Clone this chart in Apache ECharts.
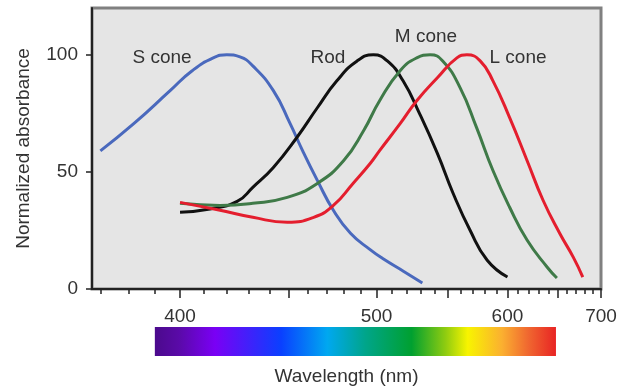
<!DOCTYPE html>
<html><head><meta charset="utf-8">
<script src="https://cdn.jsdelivr.net/npm/echarts@6/dist/echarts.min.js"></script>
<style>html,body{margin:0;padding:0;background:#fff}#c{width:618px;height:387px}</style>
</head><body><div id="c"></div>
<script>
// ---- data (wavelength in nm, normalized absorbance) ----
const sConeNm  = [370, 382, 396, 405, 414, 420, 426, 432, 442, 450.5, 457, 465, 474, 484, 496, 504, 518, 531];
const sConeVal = [59, 70.6, 84.7, 93.2, 98.7, 100, 99.1, 95.3, 84.7, 70.6, 59.1, 46.4, 33.6, 23.8, 16.8, 13, 7.5, 2.6];

const rodNm  = [400, 412.6, 424.7, 432, 442, 454, 465, 476, 488, 498, 507, 517.5, 529, 542, 554, 567.6, 582, 600];
const rodVal = [32.8, 34.2, 37.4, 43.4, 51.9, 64.7, 77.4, 88.9, 97.4, 100, 97.4, 88.9, 74.9, 57.9, 40.9, 25.1, 12.3, 5.1];

const mConeNm  = [400, 417, 432, 449, 465, 480, 492, 502, 515.5, 527, 536.6, 546, 559.5, 573, 587, 602, 618.5, 638.6, 649];
const mConeVal = [36.6, 35.7, 36.6, 39.1, 45.1, 54.9, 67.7, 80.4, 93.2, 98.7, 100, 97.4, 86, 68.9, 50.6, 34.9, 20.9, 9.4, 4.7];

const lConeNm  = [400, 417, 432, 449, 463, 474, 485.5, 496, 502, 515.5, 527, 542, 557, 565, 576, 587, 602, 618.5, 634.5, 652, 667, 678];
const lConeVal = [37, 33.6, 30.6, 28.5, 30.6, 35.7, 45.1, 53.6, 59.1, 70.6, 80.4, 90.2, 98.7, 100, 97.4, 88.9, 73.2, 54.9, 37.9, 23.8, 13.6, 5.1];

const seriesNames = ['S cone', 'Rod', 'M cone', 'L cone'];
const xLabelNm = [400, 500, 600, 700];
const xMajorTickNm = [400, 450, 500, 550, 600, 650, 700];
const xMinorTickNm = [370, 380, 390, 400, 410, 420, 430, 440, 450, 460, 470, 480, 490, 500, 510, 520, 530, 540, 550, 560, 570, 580, 590, 600, 610, 620, 630, 640, 650, 660, 670, 680, 690, 700];
const yTicks = [0, 50, 100];
const spectrumNm = [390, 648];

// ---- build ----
const FONT = "'Liberation Sans', Arial, sans-serif";
const toX = nm => 1e7 / nm;          // reciprocal (wavenumber) scale
const X_MIN = toX(700), X_MAX = toX(367.1);
// sort ascending in x for smoothing
const pairs = (nm, v) => nm.map((w, i) => [toX(w), v[i]]).reverse();

const colors = ['#4a69bd', '#111111', '#3f7a48', '#e41e2e'];
const lineSeries = [[sConeNm, sConeVal], [rodNm, rodVal], [mConeNm, mConeVal], [lConeNm, lConeVal]].map((d, i) => ({
  type: 'line', name: seriesNames[i], data: pairs(d[0], d[1]),
  showSymbol: false, smooth: 0.5,
  lineStyle: { color: colors[i], width: 3 }, itemStyle: { color: colors[i] }, z: 3 + i
}));

const spectrumStops = [
  { offset: 0, color: '#4b0a8c' }, { offset: 0.06, color: '#5a0aa8' }, { offset: 0.15, color: '#7a00f5' },
  { offset: 0.315, color: '#0a40ff' }, { offset: 0.43, color: '#00a8f0' }, { offset: 0.525, color: '#00a58a' },
  { offset: 0.64, color: '#00a030' }, { offset: 0.725, color: '#90cc10' }, { offset: 0.78, color: '#f8f400' },
  { offset: 0.865, color: '#fbb030' }, { offset: 0.93, color: '#f06830' }, { offset: 1, color: '#e82424' }
];

const chart = echarts.init(document.getElementById('c'), null, { renderer: 'canvas' });
chart.setOption({
  animation: false,
  backgroundColor: '#ffffff',
  textStyle: { fontFamily: FONT },
  grid: { left: 92, right: 17, top: 8, bottom: 98, show: true, backgroundColor: '#e5e5e5', borderColor: '#808080', borderWidth: 3, containLabel: false, outerBoundsMode: 'none' },
  xAxis: [{
    type: 'value', min: X_MIN, max: X_MAX, inverse: true, position: 'bottom',
    axisLine: { show: true, lineStyle: { color: '#222', width: 2 } },
    axisTick: { show: true, customValues: xMinorTickNm.map(toX), length: 5, lineStyle: { color: '#222', width: 1.5 } },
    axisLabel: { show: true, customValues: xLabelNm.map(toX), formatter: v => String(Math.round(1e7 / v)), fontSize: 19, color: '#333', margin: 18, fontFamily: FONT },
    splitLine: { show: false },
    name: 'Wavelength (nm)', nameLocation: 'middle', nameGap: 78,
    nameTextStyle: { fontSize: 19, color: '#333', fontFamily: FONT }
  }, {
    type: 'value', min: X_MIN, max: X_MAX, inverse: true, position: 'bottom', gridIndex: 0,
    axisLine: { show: false },
    axisTick: { show: true, customValues: xMajorTickNm.map(toX), length: 9, lineStyle: { color: '#222', width: 1.5 } },
    axisLabel: { show: false }, splitLine: { show: false }
  }],
  yAxis: {
    type: 'value', min: 0, max: 120,
    axisLine: { show: true, lineStyle: { color: '#222', width: 2 } },
    axisTick: { show: true, customValues: yTicks, length: 6, lineStyle: { color: '#222', width: 1.5 } },
    axisLabel: { customValues: yTicks, fontSize: 19, color: '#333', margin: 14, fontFamily: FONT },
    splitLine: { show: false },
    name: 'Normalized absorbance', nameLocation: 'middle', nameGap: 59, nameRotate: 90,
    nameTextStyle: { fontSize: 19, color: '#333', fontFamily: FONT }
  },
  series: lineSeries.concat([{
    type: 'custom', silent: true, clip: false, z: 1,
    data: [[toX(spectrumNm[0]), toX(spectrumNm[1])]],
    renderItem: (params, api) => {
      const p0 = api.coord([api.value(0), 0]);
      const p1 = api.coord([api.value(1), 0]);
      return {
        type: 'rect',
        shape: { x: p0[0], y: p0[1] + 38, width: p1[0] - p0[0], height: 29 },
        style: { fill: new echarts.graphic.LinearGradient(0, 0, 1, 0, spectrumStops) }
      };
    }
  }]),
  graphic: [
    { type: 'text', x: 162, y: 58, z: 100, style: { text: seriesNames[0], fontSize: 19, fontFamily: FONT, fill: '#333', align: 'center', verticalAlign: 'middle' } },
    { type: 'text', x: 328, y: 58, z: 100, style: { text: seriesNames[1], fontSize: 19, fontFamily: FONT, fill: '#333', align: 'center', verticalAlign: 'middle' } },
    { type: 'text', x: 426, y: 37, z: 100, style: { text: seriesNames[2], fontSize: 19, fontFamily: FONT, fill: '#333', align: 'center', verticalAlign: 'middle' } },
    { type: 'text', x: 518, y: 58, z: 100, style: { text: seriesNames[3], fontSize: 19, fontFamily: FONT, fill: '#333', align: 'center', verticalAlign: 'middle' } }
  ]
});
</script></body></html>
